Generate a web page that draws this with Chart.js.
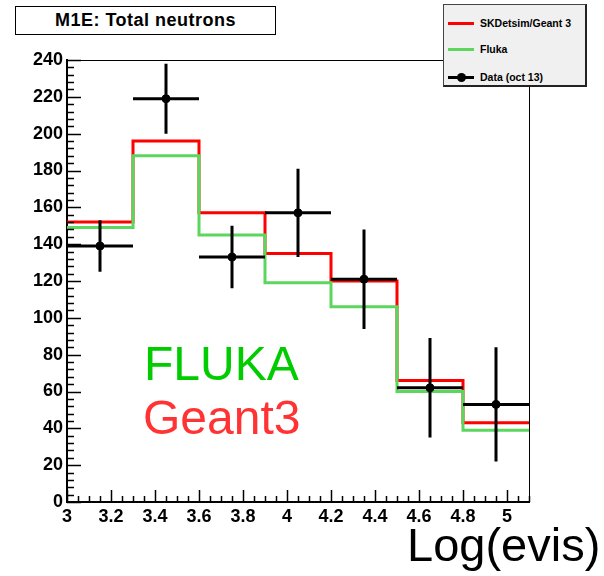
<!DOCTYPE html>
<html lang="en">
<head>
<meta charset="UTF-8">
<title>M1E: Total neutrons</title>
<script src="https://cdn.jsdelivr.net/npm/chart.js"></script>
<style>
  body { margin: 0; background: #fff; font-family: 'Liberation Sans', Arial, sans-serif; }
  #wrap { position: relative; width: 604px; height: 576px; overflow: hidden; }
  #chart { position: absolute; left: 0; top: 0; }
  .title-box {
    position: absolute; left: 15px; top: 6px; width: 259px; height: 27px;
    border: 1px solid #000; background: #fff;
    font-weight: bold; font-size: 18px; letter-spacing: 0.5px;
    line-height: 27px; text-align: center;
  }
  .legend {
    position: absolute; left: 443px; top: 4px; width: 141px; height: 80px;
    background: #f0f0f0; border: 1px solid #444;
    border-right: 2px solid #222; border-bottom: 2px solid #222;
  }
  .legend .row { position: absolute; left: 0; height: 12px; }
  .legend .sw { position: absolute; left: 4px; width: 26px; height: 3px; top: 5px; }
  .legend .dot { position: absolute; left: 13px; top: 2px; width: 9px; height: 9px; border-radius: 50%; background: #000; }
  .legend .lbl { position: absolute; left: 36px; top: 0; font-size: 10.5px; font-weight: bold; line-height: 13px; white-space: nowrap; }
  .big { position: absolute; font-size: 48px; line-height: 48px; white-space: nowrap; }
  .xtitle { position: absolute; left: 407px; top: 519px; font-size: 47px; line-height: 52px; white-space: nowrap; }
</style>
</head>
<body>
<div id="wrap">
  <canvas id="chart" width="604" height="576"></canvas>
  <div class="title-box">M1E: Total neutrons</div>
  <div class="legend">
    <div class="row" style="top:12px"><div class="sw" style="background:#ff0000"></div><div class="lbl">SKDetsim/Geant 3</div></div>
    <div class="row" style="top:38px"><div class="sw" style="background:#5cd65c"></div><div class="lbl">Fluka</div></div>
    <div class="row" style="top:66px"><div class="sw" style="background:#000"></div><div class="dot"></div><div class="lbl">Data (oct 13)</div></div>
  </div>
  <div class="big" style="left:144px; top:340px; color:#00cc00">FLUKA</div>
  <div class="big" style="left:143px; top:394px; color:#ff3333">Geant3</div>
  <div class="xtitle">Log(evis)</div>
</div>

<script>
  // bin edges of the histogram (Log(evis))
  const binEdges = [3.0, 3.3, 3.6, 3.9, 4.2, 4.5, 4.8, 5.1];
  // MC predictions per bin
  const geant3 = [152, 196, 157, 135, 120, 66, 43];
  const fluka = [149, 188, 145, 119, 106, 60, 39];
  // data points (bin centres), values and vertical errors
  const dataX = [3.15, 3.45, 3.75, 4.05, 4.35, 4.65, 4.95];
  const dataY = [139, 219, 133, 157, 121, 62, 53];
  const dataErr = [14, 19, 17, 24, 27, 27, 31];
  // axis tick labels
  const xTicks = [3, 3.2, 3.4, 3.6, 3.8, 4, 4.2, 4.4, 4.6, 4.8, 5];
  const yTicks = [0, 20, 40, 60, 80, 100, 120, 140, 160, 180, 200, 220, 240];

  function stepPoints(values) {
    const pts = values.map((v, i) => ({ x: binEdges[i], y: v }));
    pts.push({ x: binEdges[binEdges.length - 1], y: values[values.length - 1] });
    return pts;
  }

  const rootAxes = {
    id: 'rootAxes',
    afterDatasetsDraw(chart) {
      const ctx = chart.ctx;
      const xs = chart.scales.x, ys = chart.scales.y;
      // error bars
      ctx.save();
      ctx.strokeStyle = '#000';
      ctx.lineWidth = 3;
      dataX.forEach((x, i) => {
        const half = (binEdges[i + 1] - binEdges[i]) / 2;
        ctx.beginPath();
        ctx.moveTo(xs.getPixelForValue(x - half), ys.getPixelForValue(dataY[i]));
        ctx.lineTo(xs.getPixelForValue(x + half), ys.getPixelForValue(dataY[i]));
        ctx.moveTo(xs.getPixelForValue(x), ys.getPixelForValue(dataY[i] - dataErr[i]));
        ctx.lineTo(xs.getPixelForValue(x), ys.getPixelForValue(dataY[i] + dataErr[i]));
        ctx.stroke();
      });
      ctx.restore();
    },
    afterDraw(chart) {
      const ctx = chart.ctx;
      const a = chart.chartArea;
      const xs = chart.scales.x, ys = chart.scales.y;
      ctx.save();
      ctx.strokeStyle = '#000';
      ctx.lineWidth = 1;
      // top and right frame
      ctx.beginPath();
      ctx.moveTo(a.left, a.top + 0.5);
      ctx.lineTo(a.right + 0.5, a.top + 0.5);
      ctx.lineTo(a.right + 0.5, a.bottom);
      ctx.stroke();
      // y ticks
      ctx.lineWidth = 1.5;
      ctx.beginPath();
      for (let v = ys.min; v <= ys.max + 1e-6; v += 4) {
        const major = Math.abs(v % 20) < 1e-6;
        const py = Math.round(ys.getPixelForValue(v)) + 0.5;
        ctx.moveTo(a.left, py);
        ctx.lineTo(a.left + (major ? 14 : 7), py);
      }
      // x ticks
      for (let i = 0; i <= Math.round((xs.max - xs.min) / 0.05); i++) {
        const v = xs.min + i * 0.05;
        const major = Math.abs(v * 5 - Math.round(v * 5)) < 1e-6;
        const px = Math.round(xs.getPixelForValue(v)) + 0.5;
        ctx.moveTo(px, a.bottom);
        ctx.lineTo(px, a.bottom - (major ? 12 : 6));
      }
      ctx.stroke();
      ctx.restore();
    }
  };

  const tickFont = { family: "'Liberation Sans', Arial, sans-serif", size: 18, weight: 'bold' };

  new Chart(document.getElementById('chart'), {
    type: 'line',
    data: {
      datasets: [
        {
          label: 'Data (oct 13)',
          type: 'scatter',
          data: dataX.map((x, i) => ({ x: x, y: dataY[i] })),
          backgroundColor: '#000',
          borderColor: '#000',
          pointRadius: 4,
          order: 0
        },
        {
          label: 'SKDetsim/Geant 3',
          data: stepPoints(geant3),
          stepped: 'before',
          borderColor: '#ff0000',
          borderWidth: 3,
          pointRadius: 0,
          fill: false,
          order: 2
        },
        {
          label: 'Fluka',
          data: stepPoints(fluka),
          stepped: 'before',
          borderColor: '#5cd65c',
          borderWidth: 3,
          pointRadius: 0,
          fill: false,
          order: 1
        }
      ]
    },
    options: {
      responsive: false,
      animation: false,
      layout: { padding: { top: 60, right: 75, left: 0, bottom: 0 } },
      plugins: { legend: { display: false }, tooltip: { enabled: false } },
      scales: {
        x: {
          type: 'linear',
          min: 3, max: 5.1,
          grid: { display: false, drawTicks: false },
          border: { color: '#000', width: 2 },
          afterBuildTicks: s => { s.ticks = xTicks.map(v => ({ value: v })); },
          afterFit: s => { s.height = 74; },
          ticks: {
            color: '#000', font: tickFont, padding: 4,
            autoSkip: false, maxRotation: 0,
            callback: v => String(v)
          }
        },
        y: {
          min: 0, max: 240,
          grid: { display: false, drawTicks: false },
          border: { color: '#000', width: 2 },
          afterBuildTicks: s => { s.ticks = yTicks.map(v => ({ value: v })); },
          afterFit: s => { s.width = 67; },
          ticks: {
            color: '#000', font: tickFont, padding: 4,
            callback: v => String(v)
          }
        }
      }
    },
    plugins: [rootAxes]
  });
</script>
</body>
</html>
